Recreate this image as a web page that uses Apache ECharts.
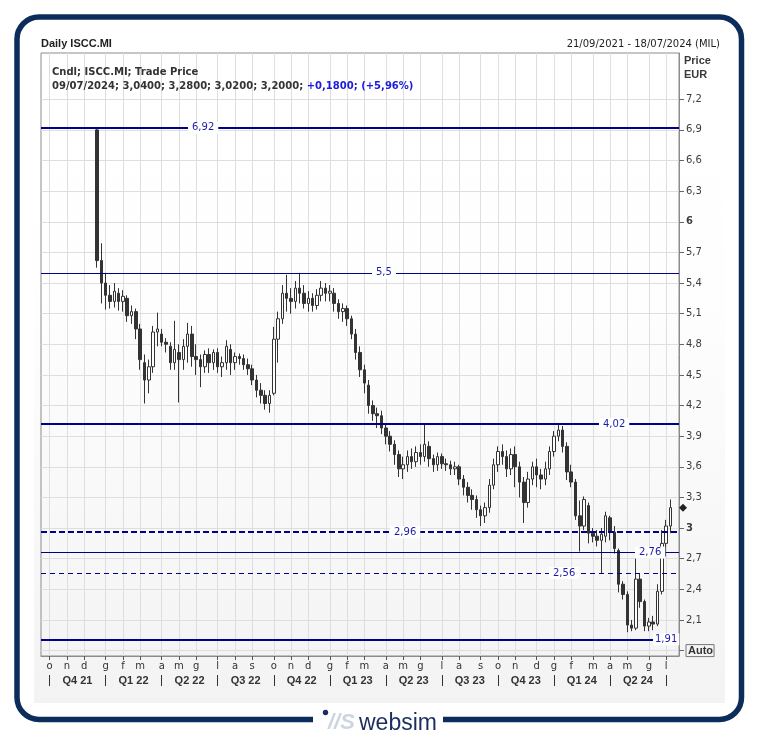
<!DOCTYPE html>
<html><head><meta charset="utf-8">
<script src="https://cdn.jsdelivr.net/npm/echarts@6/dist/echarts.min.js"></script>
<style>html,body{margin:0;padding:0;background:#fff}#c{width:759px;height:738px}</style>
</head><body><div id="c"></div>
<script>
// ---------------- data ----------------
const axisStartWeek = '2021-09-20';   // first weekly category (Monday)
const weekCount = 149;                // weekly categories shown on the axis
const candleStartWeek = '2021-12-20'; // first weekly candle
// weekly candles: [open, close, low, high]
const ohlc = [
[6.90,5.62,5.55,6.92],[5.62,5.40,5.20,5.79],[5.40,5.28,5.14,5.50],[5.28,5.22,5.15,5.38],
[5.22,5.32,5.16,5.40],[5.30,5.22,5.13,5.35],[5.22,5.27,5.12,5.33],[5.25,5.08,5.02,5.28],
[5.08,5.12,5.00,5.18],[5.12,4.95,4.85,5.15],[4.95,4.65,4.55,5.00],[4.62,4.45,4.22,4.70],
[4.45,4.58,4.32,4.65],[4.58,4.92,4.52,4.98],[4.92,4.95,4.78,5.11],[4.90,4.82,4.78,4.95],
[4.82,4.80,4.72,4.86],[4.78,4.62,4.55,4.82],[4.62,4.75,4.55,5.03],[4.72,4.65,4.23,4.80],
[4.65,4.78,4.55,4.85],[4.78,4.90,4.62,5.01],[4.90,4.68,4.58,4.98],[4.68,4.65,4.50,4.80],
[4.65,4.58,4.38,4.70],[4.58,4.70,4.52,4.74],[4.70,4.62,4.52,4.76],[4.62,4.72,4.55,4.75],
[4.72,4.58,4.52,4.76],[4.58,4.62,4.48,4.68],[4.62,4.78,4.55,4.84],[4.75,4.62,4.50,4.80],
[4.62,4.68,4.55,4.72],[4.68,4.66,4.60,4.71],[4.66,4.60,4.55,4.70],[4.60,4.56,4.50,4.66],
[4.56,4.45,4.40,4.60],[4.45,4.35,4.28,4.50],[4.35,4.30,4.22,4.42],[4.30,4.22,4.16,4.35],
[4.22,4.30,4.13,4.35],[4.32,4.85,4.30,4.97],[4.85,5.05,4.62,5.12],[5.05,5.30,5.00,5.38],
[5.30,5.25,5.12,5.48],[5.25,5.22,5.10,5.35],[5.22,5.35,5.15,5.42],[5.35,5.30,5.20,5.50],
[5.30,5.20,5.15,5.38],[5.20,5.25,5.12,5.32],[5.25,5.18,5.12,5.30],[5.18,5.28,5.14,5.34],
[5.28,5.35,5.22,5.42],[5.35,5.30,5.22,5.40],[5.30,5.32,5.22,5.38],[5.30,5.20,5.12,5.35],
[5.20,5.12,5.05,5.24],[5.12,5.15,5.02,5.20],[5.15,5.05,4.98,5.18],[5.05,4.90,4.85,5.08],
[4.90,4.72,4.65,4.95],[4.72,4.55,4.48,4.78],[4.55,4.42,4.32,4.60],[4.40,4.20,4.12,4.45],
[4.20,4.12,4.05,4.25],[4.12,4.10,3.98,4.18],[4.10,3.98,3.92,4.15],[3.98,3.90,3.82,4.02],
[3.90,3.82,3.75,3.95],[3.82,3.72,3.62,3.86],[3.72,3.58,3.50,3.76],[3.58,3.62,3.48,3.70],
[3.62,3.70,3.55,3.76],[3.70,3.65,3.58,3.78],[3.65,3.74,3.60,3.80],[3.74,3.70,3.62,3.82],
[3.70,3.82,3.65,4.02],[3.80,3.68,3.60,3.85],[3.68,3.62,3.55,3.72],[3.62,3.70,3.56,3.74],
[3.70,3.63,3.58,3.73],[3.63,3.62,3.56,3.68],[3.62,3.58,3.52,3.66],[3.58,3.60,3.52,3.65],
[3.60,3.48,3.42,3.62],[3.48,3.40,3.32,3.52],[3.40,3.32,3.25,3.45],[3.32,3.28,3.18,3.38],
[3.28,3.18,3.10,3.32],[3.18,3.12,3.02,3.22],[3.12,3.20,3.05,3.25],[3.20,3.42,3.15,3.48],
[3.42,3.62,3.38,3.68],[3.62,3.75,3.55,3.80],[3.75,3.70,3.62,3.82],[3.70,3.58,3.50,3.76],
[3.58,3.72,3.52,3.78],[3.72,3.60,3.40,3.80],[3.60,3.45,3.30,3.65],[3.45,3.25,3.05,3.50],
[3.25,3.48,3.20,3.55],[3.48,3.60,3.42,3.65],[3.60,3.52,3.40,3.68],[3.52,3.48,3.38,3.58],
[3.48,3.58,3.42,3.65],[3.58,3.75,3.52,3.80],[3.75,3.90,3.70,3.95],[3.90,3.96,3.85,4.02],
[3.96,3.80,3.74,4.00],[3.80,3.55,3.47,3.84],[3.55,3.45,3.40,3.62],[3.45,3.12,3.08,3.48],
[3.12,3.02,2.77,3.27],[3.02,3.28,2.98,3.31],[3.22,2.95,2.85,3.25],[2.95,2.92,2.86,3.00],
[2.92,2.88,2.82,2.98],[2.88,2.94,2.56,3.00],[2.92,3.12,2.86,3.16],[3.10,2.96,2.88,3.12],
[2.96,2.80,2.75,3.02],[2.78,2.45,2.37,2.80],[2.45,2.35,2.30,2.48],[2.35,2.05,1.98,2.38],
[2.05,2.02,1.99,2.10],[2.02,2.50,2.00,2.77],[2.50,2.28,2.22,2.55],[2.28,2.04,1.99,2.30],
[2.04,2.08,1.99,2.12],[2.08,2.06,2.00,2.14],[2.06,2.38,2.04,2.45],[2.38,2.85,2.35,2.98],
[2.85,3.02,2.72,3.08],[3.02,3.20,2.95,3.28]
];
const yTicks = [1.8,2.1,2.4,2.7,3,3.3,3.6,3.9,4.2,4.5,4.8,5.1,5.4,5.7,6,6.3,6.6,6.9,7.2];
const monthLetters = ['g','f','m','a','m','g','l','a','s','o','n','d'];
const levelValues = [6.92, 5.5, 4.02, 2.96, 2.76, 2.56, 1.91];
const lastClose = 3.20;
const titleText = 'Daily ISCC.MI';
const rangeText = '21/09/2021 - 18/07/2024 (MIL)';
const infoLine1 = 'Cndl; ISCC.MI; Trade Price';
const infoLine2 = '09/07/2024; 3,0400; 3,2800; 3,0200; 3,2000; ';
const infoChange = '+0,1800; (+5,96%)';

// ---------------- build ----------------
const DAY = 86400000;
function parseDate(s){const p=s.split('-').map(Number);return Date.UTC(p[0],p[1]-1,p[2]);}
const t0 = parseDate(axisStartWeek);
const categories = [];
for (let i=0;i<weekCount;i++) categories.push(new Date(t0+i*7*DAY).toISOString().slice(0,10));
const c0 = Math.round((parseDate(candleStartWeek)-t0)/(7*DAY));
const candleRows = ohlc.map((r,k)=>[c0+k, r[0], r[1], r[2], r[3]]);

// month tick = the weekly category whose Monday is nearest to the 1st of the month
const monthTickByCat = {};
categories.forEach((c,i)=>{
  const t=t0+i*7*DAY;
  for (let d=-3; d<=3; d++){const dd=new Date(t+d*DAY); if(dd.getUTCDate()===1){monthTickByCat[c]={m:dd.getUTCMonth(), y:dd.getUTCFullYear(), i:i};}}
});
const quarterStartByCat = {};
const qStarts = [];
Object.keys(monthTickByCat).forEach(c=>{const o=monthTickByCat[c]; if(o.m%3===0){quarterStartByCat[c]=true; qStarts.push(o);}});
qStarts.sort((a,b)=>a.i-b.i);
const quarterLabelByCat = {};
for (let k=0;k<qStarts.length-1;k++){
  const mid = Math.floor((qStarts[k].i+qStarts[k+1].i)/2);
  quarterLabelByCat[categories[mid]] = 'Q'+(qStarts[k].m/3+1)+' '+String(qStarts[k].y%100).padStart(2,'0');
}

function fmtNum(v){return String(Math.round(v*100)/100).replace('.',',');}
function yFmt(v){
  const r=Math.round(v*10)/10;
  if (Math.abs(r-1.8)<1e-6) return '{auto|Auto}';
  const s=fmtNum(r);
  return Number.isInteger(r) ? '{b|'+s+'}' : s;
}

const levelStyles = [
  {w:2, t:'solid', dx:147, pad:[1,4]},
  {w:1, t:'solid', dx:331, pad:[1,4]},
  {w:2, t:'solid', dx:558, pad:[1,4]},
  {w:2, t:[6,3],  dx:349, pad:[1,4]},
  {w:1, t:'solid', dx:594, pad:[1,4]},
  {w:1, t:[5,4],  dx:508, pad:[1,4]},
  {w:2, t:'solid', dx:612, pad:[1,2]}
];
const levelItems = levelValues.map((v,k)=>({
  yAxis: v,
  lineStyle:{color:'#000088', width:levelStyles[k].w, type:levelStyles[k].t},
  label:{show:true, position:'insideStart', distance:[levelStyles[k].dx,0], formatter:fmtNum(v),
    color:'#1c1caa', fontFamily:'DejaVu Sans', fontSize:10, backgroundColor:'#ffffff', padding:levelStyles[k].pad}
}));

const has = (o,k)=>Object.prototype.hasOwnProperty.call(o,k);
const monthInt = (i,v)=>has(monthTickByCat,v);
const qStartInt = (i,v)=>has(quarterStartByCat,v);
const qLabInt = (i,v)=>has(quarterLabelByCat,v);

const baseGraphics = [
  {type:'rect', id:'panel', z:-100, silent:true, shape:{x:34,y:22,width:691,height:681},
   style:{fill:{type:'linear',x:0,y:0,x2:0,y2:1,colorStops:[{offset:0,color:'#ffffff'},{offset:0.4,color:'#fefefe'},{offset:1,color:'#f3f3f3'}]}}},
  {type:'rect', id:'frame', z:100, silent:true, shape:{x:17,y:17,width:724.5,height:702.5,r:22},
   style:{fill:'none', stroke:'#0c2c5c', lineWidth:5.5}},
  {type:'rect', id:'logoBg', z:101, silent:true, shape:{x:313,y:711,width:130,height:20}, style:{fill:'#ffffff'}},
  {type:'circle', id:'logoDot', z:102, silent:true, shape:{cx:325.5,cy:712.5,r:2.7}, style:{fill:'#1a2f5f'}},
  {type:'text', id:'logoMark', z:102, silent:true, x:328, y:723, style:{text:'//S', font:'italic bold 22px "Liberation Sans"', fill:'#cdd6e0', textVerticalAlign:'middle'}},
  {type:'text', id:'logoText', z:102, silent:true, x:359, y:724, style:{text:'websim', font:'23px "Liberation Sans"', fill:'#1a2f5f', textVerticalAlign:'middle'}}
];

const chart = echarts.init(document.getElementById('c'), null, {renderer:'canvas', width:759, height:738});
const option = {
  animation:false,
  backgroundColor:'#ffffff',
  textStyle:{fontFamily:'DejaVu Sans'},
  title:[
    {text:titleText, left:41, top:37.5, padding:0, textStyle:{fontFamily:'Liberation Sans', fontWeight:'bold', fontSize:11, color:'#1e1e1e', lineHeight:13}},
    {text:rangeText, right:39, top:38, padding:0, textStyle:{fontFamily:'DejaVu Sans', fontWeight:'normal', fontSize:10, color:'#1e1e1e', lineHeight:13}},
    {text:'{d|'+infoLine1+'}\n{d|'+infoLine2+'}{c|'+infoChange+'}', left:52, top:65, padding:0,
     textStyle:{rich:{d:{fontFamily:'DejaVu Sans', fontSize:10, color:'#333', lineHeight:14}, c:{fontFamily:'DejaVu Sans', fontSize:10, color:'#1a1adc', lineHeight:14}}}},
    {text:'Price\nEUR', left:684, top:53.5, padding:0, textStyle:{fontFamily:'Liberation Sans', fontWeight:'bold', fontSize:11, color:'#3a3a3a', lineHeight:14}}
  ],
  grid:{left:41, right:80, top:53, bottom:82, show:true, borderColor:'#8c8c8c', borderWidth:1, backgroundColor:'transparent', containLabel:false, outerBoundsMode:'none'},
  xAxis:[
    {type:'category', data:categories, boundaryGap:false, position:'bottom',
     axisLine:{show:true, onZero:false, lineStyle:{color:'#8c8c8c', width:1}},
     axisTick:{show:true, length:4, interval:monthInt, lineStyle:{color:'#555'}},
     axisLabel:{interval:monthInt, formatter:(v)=>monthLetters[monthTickByCat[v].m], margin:5, color:'#333', fontFamily:'DejaVu Sans', fontSize:10},
     splitLine:{show:true, interval:monthInt, lineStyle:{color:'#dedede', width:1}}},
    {type:'category', data:categories, boundaryGap:false, position:'bottom', offset:19,
     axisLine:{show:false},
     axisTick:{show:true, length:11, interval:qStartInt, lineStyle:{color:'#333', width:1}},
     axisLabel:{interval:qLabInt, formatter:(v)=>quarterLabelByCat[v]||'', margin:0, padding:[0,0,0,4], color:'#333', fontWeight:'bold', fontFamily:'Liberation Sans', fontSize:11},
     splitLine:{show:false}}
  ],
  yAxis:{type:'value', position:'right', min:1.747, max:7.653, splitNumber:20,
    axisLine:{show:true, onZero:false, lineStyle:{color:'#8c8c8c', width:1}},
    axisTick:{show:true, length:5, customValues:yTicks, lineStyle:{color:'#666'}},
    axisLabel:{customValues:yTicks, margin:7, color:'#3c3c3c', fontFamily:'DejaVu Sans', fontSize:10, formatter:yFmt,
      rich:{b:{fontWeight:'bold', fontFamily:'DejaVu Sans', fontSize:10, color:'#3c3c3c'},
            auto:{fontWeight:'bold', fontFamily:'Liberation Sans', fontSize:11, color:'#333', borderColor:'#777', borderWidth:1, padding:[1,1,0,2]}}},
    splitLine:{show:true, lineStyle:{color:'#dedede', width:1}}},
  series:[{
    type:'candlestick', xAxisIndex:0, yAxisIndex:0, data:candleRows, encode:{x:0, y:[1,2,3,4]},
    barWidth:3,
    itemStyle:{color:'#ffffff', color0:'#333333', borderColor:'#333333', borderColor0:'#333333', borderWidth:1},
    markLine:{symbol:['none','none'], silent:true, animation:false, data:levelItems}
  }],
  graphic: baseGraphics
};
chart.setOption(option);
const yl = chart.convertToPixel({yAxisIndex:0}, lastClose);
chart.setOption({graphic: baseGraphics.concat([
  {type:'polygon', id:'lastMark', z:50, silent:true, shape:{points:[[683,yl-4],[687,yl],[683,yl+4],[679,yl]]}, style:{fill:'#222'}}
])});
</script>
</body></html>
